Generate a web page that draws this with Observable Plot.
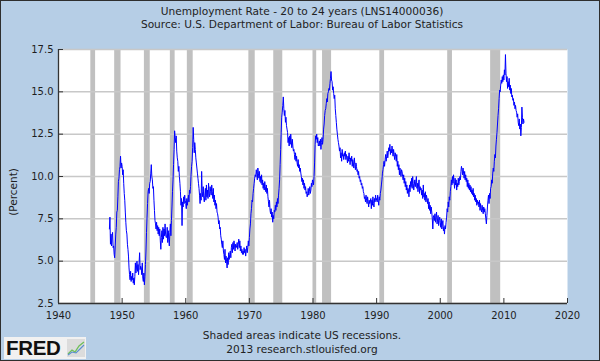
<!DOCTYPE html>
<html>
<head>
<meta charset="utf-8">
<script src="https://cdn.jsdelivr.net/npm/d3@7"></script>
<script src="https://cdn.jsdelivr.net/npm/@observablehq/plot@0.6"></script>
<style>
html, body { margin:0; padding:0; }
body { width:600px; height:361px; position:relative; overflow:hidden; background:#b6cee6;
  font-family:"DejaVu Sans", Verdana, sans-serif; color:#222; }
.txt { position:absolute; left:0; width:604px; text-align:center; font-size:10.6px; line-height:13px; white-space:nowrap; }
#border { position:absolute; left:0; top:0; width:600px; height:361px; box-sizing:border-box; border:1px solid #2e2e2e; pointer-events:none; }
#chart { position:absolute; left:0; top:40px; }
#ylabel { position:absolute; left:13px; top:192px; transform:translate(-50%,-50%) rotate(-90deg); font-size:10.5px; white-space:nowrap; }
#logo { position:absolute; left:4px; top:337px; width:82px; height:22px; background:#f1f1f1; }
#logo .fred { position:absolute; left:2px; top:-1px; font-family:"Liberation Sans", Arial, sans-serif; font-weight:bold; font-size:20.5px; line-height:24px; color:#111; letter-spacing:-0.3px; }
#logo svg { position:absolute; left:63px; top:2px; }
</style>
</head>
<body>
<div class="txt" style="top:5px">Unemployment Rate - 20 to 24 years (LNS14000036)</div>
<div class="txt" style="top:17.5px">Source: U.S. Department of Labor: Bureau of Labor Statistics</div>
<div id="chart"></div>
<div id="ylabel">(Percent)</div>
<div class="txt" style="top:329px">Shaded areas indicate US recessions.</div>
<div class="txt" style="top:343px">2013 research.stlouisfed.org</div>
<div id="logo"><span class="fred">FRED</span>
<svg width="18" height="18" viewBox="0 0 18 18"><rect x="0" y="0" width="18" height="18" fill="#dcdcdc"/>
<polyline points="1,15 5,11 8,13 12,7 17,3" fill="none" stroke="#6fbf5a" stroke-width="1.3"/>
<polyline points="1,16 5,13 9,14 13,10 17,6" fill="none" stroke="#5a8fd0" stroke-width="1.1"/></svg></div>
<div id="border"></div>
<script>
// Monthly unemployment rate, 20 to 24 years (percent), starting January 1948
const startYear = 1948;
const rates1940s = [
  6.9, 7.6, 6.0, 6.6, 5.9, 6.5, 6.7, 5.8, 5.9, 5.4, 5.2, 5.9,
  6.6, 7.0, 7.9, 8.0, 8.8, 9.7, 9.9, 10.4, 10.6, 11.2, 10.5, 10.8
];
const rates1950s = [
  10.6, 10.1, 10.4, 9.6, 9.0, 8.6, 7.9, 7.3, 6.8, 6.6, 6.0, 5.7,
  5.3, 4.6, 4.2, 3.9, 4.4, 3.8, 4.1, 3.9, 4.3, 3.7, 4.0, 3.6,
  4.1, 4.9, 4.3, 4.6, 5.0, 4.4, 4.8, 4.2, 4.9, 5.5, 4.5, 4.7,
  4.6, 4.2, 4.9, 4.0, 3.8, 4.3, 3.6, 4.1, 4.8, 5.6, 6.7, 7.6,
  8.4, 9.1, 9.3, 9.0, 9.6, 9.7, 10.2, 10.7, 10.0, 9.8, 9.3, 9.4,
  8.6, 8.0, 7.4, 7.2, 6.9, 7.3, 6.8, 7.1, 6.6, 7.0, 6.5, 6.9,
  6.2, 5.7, 6.4, 6.8, 6.1, 7.0, 6.3, 6.9, 6.5, 7.2, 6.6, 6.4,
  6.4, 7.0, 6.1, 6.8, 6.3, 5.9, 6.7, 7.2, 6.5, 7.4, 8.2, 9.1,
  9.8, 10.7, 11.6, 12.7, 12.3, 12.0, 12.4, 11.5, 11.1, 10.9, 10.3, 10.6,
  10.0, 9.6, 9.1, 8.3, 8.7, 7.1, 8.5, 8.2, 8.8, 8.4, 8.9, 8.6
];
const rates1960s = [
  8.4, 8.1, 8.7, 8.3, 8.6, 8.9, 8.5, 9.2, 9.0, 9.4, 10.1, 10.6,
  10.9, 11.7, 12.9, 12.2, 11.4, 12.0, 11.6, 11.1, 10.8, 10.5, 10.2, 9.9,
  9.6, 9.3, 8.9, 8.4, 9.0, 8.6, 10.3, 9.1, 8.8, 9.4, 8.7, 8.5,
  8.9, 9.3, 8.6, 9.5, 8.8, 9.2, 8.7, 9.6, 9.0, 8.8, 9.4, 9.1,
  8.9, 9.5, 9.1, 8.7, 9.3, 8.5, 8.9, 8.3, 8.6, 8.1, 8.4, 7.9,
  7.8, 7.6, 7.2, 7.4, 6.9, 7.0, 6.5, 6.3, 6.0, 5.8, 6.2, 5.6,
  5.4, 5.1, 5.7, 4.9, 5.3, 5.0, 4.6, 5.2, 4.8, 5.5, 5.1, 5.4,
  5.6, 5.2, 5.8, 6.0, 5.5, 6.1, 5.7, 6.2, 5.9, 5.6, 6.0, 5.8,
  5.9, 6.1, 5.7, 6.0, 6.3, 5.8, 6.2, 5.6, 5.9, 5.5, 5.7, 5.4,
  5.6, 5.4, 5.8, 5.5, 5.7, 5.3, 5.6, 5.9, 5.5, 5.8, 6.2, 5.9
];
const rates1970s = [
  6.4, 6.9, 7.2, 7.8, 8.1, 8.6, 8.5, 9.0, 9.3, 9.6, 9.9, 10.1,
  10.0, 10.4, 10.1, 9.8, 10.5, 10.2, 9.9, 10.3, 9.7, 10.0, 9.6, 10.1,
  9.5, 9.8, 9.3, 9.6, 9.2, 9.7, 9.4, 9.1, 9.5, 9.0, 9.3, 8.8,
  8.5, 8.2, 8.6, 8.0, 7.8, 8.1, 7.6, 7.9, 7.3, 7.7, 7.5, 8.0,
  7.9, 8.3, 8.0, 8.5, 8.2, 8.7, 8.4, 8.9, 9.3, 9.8, 10.7, 11.6,
  12.6, 13.5, 13.8, 14.2, 14.7, 14.0, 13.6, 13.9, 13.2, 13.5, 13.0, 12.8,
  12.6, 12.0, 12.3, 11.8, 12.4, 11.9, 12.5, 12.1, 11.7, 12.2, 11.8, 11.5,
  11.6, 11.3, 11.0, 11.4, 10.9, 11.2, 10.8, 10.6, 11.0, 10.5, 10.7, 10.3,
  10.5, 10.2, 10.0, 9.7, 9.9, 9.5, 9.8, 9.3, 9.6, 9.2, 9.4, 9.0,
  9.1, 8.8, 9.0, 9.3, 8.9, 9.1, 9.4, 9.0, 9.2, 9.6, 9.4, 9.8
];
const rates1980s = [
  9.7, 9.5, 10.0, 10.8, 11.9, 12.4, 12.2, 12.5, 12.0, 12.3, 11.8, 11.9,
  12.1, 11.8, 12.2, 11.6, 12.0, 12.3, 11.9, 12.2, 12.8, 13.1, 13.6, 13.9,
  14.0, 14.3, 14.6, 14.4, 14.9, 15.0, 15.2, 15.1, 15.5, 15.8, 16.2, 15.7,
  15.6, 15.1, 15.3, 14.9, 14.6, 14.8, 14.0, 13.6, 13.2, 12.8, 12.5, 12.2,
  12.0, 11.8, 11.5, 11.7, 11.1, 11.4, 10.9, 11.6, 11.2, 11.3, 11.0, 11.4,
  11.2, 11.5, 11.0, 11.3, 11.1, 10.8, 11.2, 10.9, 11.4, 11.0, 10.7, 11.1,
  10.9, 11.2, 10.6, 11.0, 10.8, 10.5, 11.1, 10.7, 10.4, 10.8, 10.6, 10.3,
  10.4, 10.1, 10.3, 9.9, 10.0, 9.7, 9.8, 9.5, 9.6, 9.3, 9.4, 9.1,
  9.0, 8.7, 8.8, 8.5, 8.9, 8.6, 8.4, 8.8, 8.5, 8.2, 8.6, 8.4,
  8.5, 8.7, 8.1, 8.6, 8.3, 8.8, 8.4, 8.2, 8.7, 8.5, 8.9, 8.6
];
const rates1990s = [
  8.7, 8.5, 8.9, 8.6, 8.3, 8.8, 8.6, 9.0, 9.2, 9.5, 9.8, 10.2,
  10.4, 10.7, 10.9, 10.6, 11.0, 11.3, 10.9, 11.2, 11.5, 11.1, 11.4, 11.7,
  11.5, 11.9, 11.3, 11.6, 11.4, 11.8, 11.5, 11.2, 11.6, 11.3, 11.0, 11.4,
  11.2, 10.9, 11.3, 10.6, 10.9, 10.4, 10.7, 10.1, 10.5, 10.2, 10.0, 10.4,
  10.3, 10.0, 9.8, 10.1, 9.6, 9.9, 9.4, 9.7, 9.2, 9.5, 9.0, 9.3,
  9.2, 8.8, 9.5, 9.1, 9.7, 9.4, 9.9, 9.3, 10.0, 9.6, 9.2, 9.5,
  9.8, 9.4, 9.7, 10.0, 9.3, 9.6, 9.1, 9.5, 9.8, 9.0, 9.4, 9.2,
  9.3, 8.9, 9.2, 8.7, 9.5, 8.8, 9.0, 8.6, 9.1, 8.5, 8.9, 8.7,
  8.4, 8.7, 8.1, 8.5, 8.0, 8.3, 7.8, 8.2, 7.9, 7.5, 6.9, 7.6,
  7.7, 7.4, 7.8, 7.3, 7.6, 7.9, 7.2, 7.5, 7.7, 7.1, 7.4, 7.6
];
const rates2000s = [
  7.3, 7.0, 7.5, 6.9, 7.2, 7.4, 6.8, 7.0, 6.6, 7.1, 6.9, 7.3,
  7.6, 8.1, 7.9, 8.5, 8.2, 8.8, 8.6, 9.1, 9.4, 9.8, 9.5, 10.0,
  9.6, 10.1, 9.7, 9.3, 9.9, 9.5, 9.8, 9.2, 9.6, 9.4, 9.9, 9.5,
  9.7, 10.0, 9.8, 10.3, 10.6, 10.4, 10.1, 10.5, 10.2, 9.9, 10.3, 9.8,
  10.1, 9.7, 9.9, 9.4, 9.8, 9.3, 9.6, 9.2, 9.5, 9.1, 9.4, 9.0,
  9.2, 8.9, 9.3, 8.8, 9.0, 8.6, 8.9, 8.5, 8.7, 8.3, 8.6, 8.4,
  8.5, 8.2, 8.6, 8.0, 8.4, 8.1, 7.9, 8.3, 8.0, 7.8, 8.2, 7.9,
  8.1, 7.8, 7.5, 7.2, 7.7, 8.2, 8.6, 8.9, 8.4, 9.0, 8.7, 9.3,
  9.4, 9.8, 9.6, 10.2, 10.5, 10.3, 10.9, 11.3, 11.1, 11.8, 12.2, 12.6,
  13.1, 13.6, 14.0, 14.6, 15.1, 15.0, 15.4, 15.7, 15.5, 15.9, 15.6, 16.0
];
const rates2010s = [
  15.7, 16.3, 16.0, 17.2, 16.1, 15.6, 15.9, 15.2, 15.6, 15.3, 15.8, 15.1,
  15.4, 14.9, 15.2, 14.7, 14.8, 14.5, 14.6, 14.2, 14.4, 14.0, 14.2, 13.9,
  13.8, 13.5, 13.7, 13.2, 13.0, 13.4, 12.8, 13.1, 12.4, 12.9, 14.1, 13.5,
  13.1, 13.4, 13.2
];

// NBER recessions (decimal years: first month of peak .. end of trough month)
const recessionStart = [1945.08, 1948.83, 1953.50, 1957.58, 1960.25, 1969.92, 1973.83, 1980.00, 1981.50, 1990.50, 2001.17, 2007.92];
const recessionEnd   = [1945.83, 1949.83, 1954.42, 1958.33, 1961.17, 1970.92, 1975.25, 1980.58, 1982.92, 1991.25, 2001.92, 2009.50];

const xTicks = [1940, 1950, 1960, 1970, 1980, 1990, 2000, 2010, 2020];
const yTicks = [2.5, 5.0, 7.5, 10.0, 12.5, 15.0, 17.5];

const allRates = [].concat(rates1940s, rates1950s, rates1960s, rates1970s, rates1980s, rates1990s, rates2000s, rates2010s);
const series = allRates.map((v, i) => ({date: startYear + i / 12, rate: v}));
const recessions = recessionStart.map((s, i) => ({start: s, end: recessionEnd[i]}));

const xDomain = [xTicks[0], xTicks[xTicks.length - 1]];
const yDomain = [yTicks[0], yTicks[yTicks.length - 1]];

const chart = Plot.plot({
  width: 600,
  height: 285,
  marginLeft: 58,
  marginRight: 33,
  marginTop: 9,
  marginBottom: 22,
  style: {background: "transparent", fontFamily: "DejaVu Sans, Verdana, sans-serif", fontSize: "10px", color: "#1e1e1e", overflow: "visible"},
  x: {domain: xDomain},
  y: {domain: yDomain},
  marks: [
    Plot.frame({fill: "white", stroke: null}),
    Plot.rect(recessions, {x1: "start", x2: "end", fill: "#c0c0c0"}),
    Plot.gridY(yTicks, {stroke: "#c8c8c8", strokeOpacity: 1, strokeWidth: 1.5}),
    Plot.line(series, {x: "date", y: "rate", stroke: "#0000ff", strokeWidth: 1}),
    Plot.ruleX([xDomain[0]], {stroke: "#333", strokeWidth: 1.3}),
    Plot.ruleY([yDomain[0]], {stroke: "#333", strokeWidth: 1.3}),
    Plot.axisX(xTicks, {tickSize: -5, tickPadding: 13, tickFormat: d => String(d), stroke: "#333", label: null}),
    Plot.axisY(yTicks, {tickSize: -5, tickPadding: 10, tickFormat: d => d.toFixed(1), stroke: "#333", label: null})
  ]
});
document.getElementById("chart").appendChild(chart);
</script>
</body>
</html>
